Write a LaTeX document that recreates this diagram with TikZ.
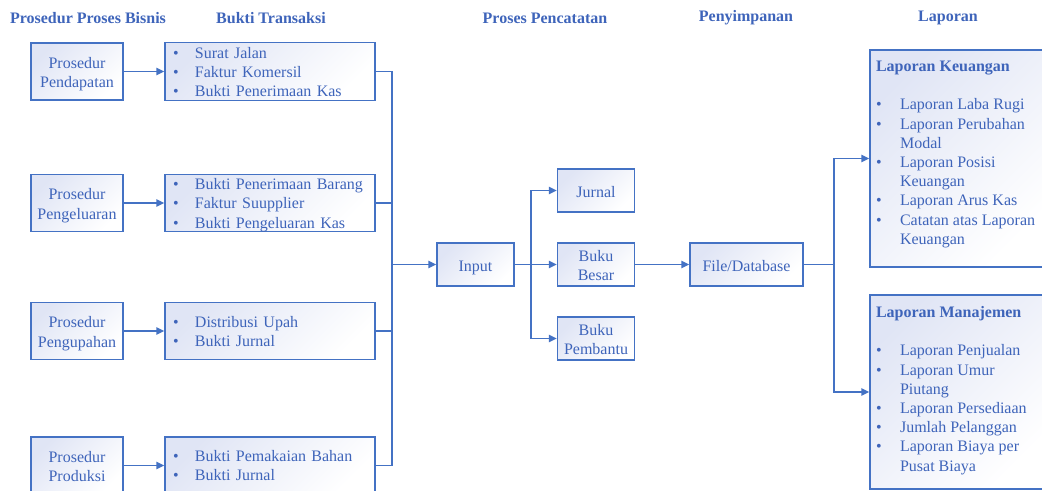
\documentclass[tikz,border=0pt]{standalone}
\usepackage{fontspec}
\setmainfont{Liberation Serif}
\usetikzlibrary{arrows.meta}

\definecolor{sysblue}{RGB}{68,114,196}
\definecolor{textblue}{RGB}{62,100,186}
\definecolor{boxtint}{RGB}{224,229,245}

\newcommand{\itm}{\textbullet &}
\newcommand{\blist}[1]{\raisebox{-1.5pt}[\height][\depth]{\begin{tabular}{@{}p{16.5pt}@{}l@{}}#1\end{tabular}}}
\newcommand{\llist}[1]{\begin{tabular}{@{}p{18pt}@{}l@{}}#1\end{tabular}}
\newcommand{\ctext}[1]{\raisebox{-2pt}[\height][\depth]{\begin{tabular}{@{}c@{}}#1\end{tabular}}}

\tikzset{
  txt/.style={font=\fontsize{12}{14.4}\selectfont, text=textblue},
  head/.style={txt, font=\fontsize{12}{14.4}\selectfont\bfseries},
  box/.style={txt, draw=sysblue, line width=1pt, top color=boxtint, bottom color=white, shading angle=45},
  prosbox/.style={box, minimum width=69pt, minimum height=42.75pt, inner sep=1pt},
  buktibox/.style={box, text width=145.5pt, inner xsep=6pt, inner ysep=0pt, align=left},
  stepbox/.style={prosbox, minimum width=57.75pt, minimum height=32.25pt},
  lapbox/.style={box, minimum width=132pt},
  conn/.style={draw=sysblue, line width=1.1pt},
  arr/.style={conn, -{Triangle[length=6pt,width=5.5pt]}}
}

\begin{document}
\begin{tikzpicture}[x=0.75pt,y=-0.75pt]
  \path[use as bounding box] (0,0) rectangle (1042,491);
  \clip (0,0) rectangle (1042,491);

  \node[head] (hpros) at (88,18) {Prosedur Proses Bisnis};
  \node[head] (hbukti) at (271,18) {Bukti Transaksi};
  \node[head] (hcatat) at (545,18) {Proses Pencatatan};
  \node[head] (hsimpan) at (746,18) {Penyimpanan};
  \node[head] (hlap) at (948,18) {Laporan};

  \node[prosbox] (pros1) at (77,71.5) {\ctext{Prosedur\\Pendapatan}};
  \node[prosbox] (pros2) at (77,203) {\ctext{Prosedur\\Pengeluaran}};
  \node[prosbox] (pros3) at (77,331) {\ctext{Prosedur\\Pengupahan}};
  \node[prosbox] (pros4) at (77,465.5) {\ctext{Prosedur\\Produksi}};

  \node[buktibox] (bukti1) at (270,71.5) {\blist{\itm Surat Jalan\\ \itm Faktur Komersil\\ \itm Bukti Penerimaan Kas}};
  \node[buktibox] (bukti2) at (270,203) {\blist{\itm Bukti Penerimaan Barang\\ \itm Faktur Suupplier\\ \itm Bukti Pengeluaran Kas}};
  \node[buktibox, minimum height=43pt] (bukti3) at (270,331) {\blist{\itm Distribusi Upah\\ \itm Bukti Jurnal}};
  \node[buktibox, minimum height=43pt] (bukti4) at (270,465.5) {\blist{\itm Bukti Pemakaian Bahan\\ \itm Bukti Jurnal}};

  \node[stepbox] (input) at (475.5,264.5) {\ctext{Input}};
  \node[stepbox] (jurnal) at (596,190.5) {\ctext{Jurnal}};
  \node[stepbox] (besar) at (596,264.5) {\ctext{Buku\\Besar}};
  \node[stepbox] (pembantu) at (596,338.5) {\ctext{Buku\\Pembantu}};
  \node[stepbox, minimum width=84.75pt] (filedb) at (746.5,264.5) {\ctext{File/Database}};

  \node[lapbox, minimum height=162.75pt] (keu) at (958,158.5) {};
  \node[lapbox, minimum height=145.5pt] (man) at (958,392) {};
  \node[txt, anchor=north west] (keutext) at ([shift={(2,4)}]keu.north west) {\llist{%
    \multicolumn{2}{@{}l@{}}{\textbf{Laporan Keuangan}}\\[14.4pt]
    \itm Laporan Laba Rugi\\ \itm Laporan Perubahan\\ & Modal\\ \itm Laporan Posisi\\ & Keuangan\\
    \itm Laporan Arus Kas\\ \itm Catatan atas Laporan\\ & Keuangan}};
  \node[txt, anchor=north west] (mantext) at ([shift={(2,5)}]man.north west) {\llist{%
    \multicolumn{2}{@{}l@{}}{\textbf{Laporan Manajemen}}\\[14.4pt]
    \itm Laporan Penjualan\\ \itm Laporan Umur\\ & Piutang\\ \itm Laporan Persediaan\\
    \itm Jumlah Pelanggan\\ \itm Laporan Biaya per\\ & Pusat Biaya}};

  \foreach \i in {1,...,4} \draw[arr] (pros\i) -- (bukti\i);
  \coordinate (bus) at (392,264.5);
  \foreach \i in {1,...,4} \draw[conn] (bukti\i.east) -| (bus);
  \draw[arr] (bus) -- (input);

  \coordinate (split) at (531,264.5);
  \draw[conn] (input) -- (split);
  \draw[arr] (split) |- (jurnal);
  \draw[arr] (split) -- (besar);
  \draw[arr] (split) |- (pembantu);
  \draw[arr] (besar) -- (filedb);

  \coordinate (split2) at (834,264.5);
  \draw[conn] (filedb) -- (split2);
  \draw[arr] (split2) |- (keu);
  \draw[arr] (split2) |- (man);
\end{tikzpicture}
\end{document}
